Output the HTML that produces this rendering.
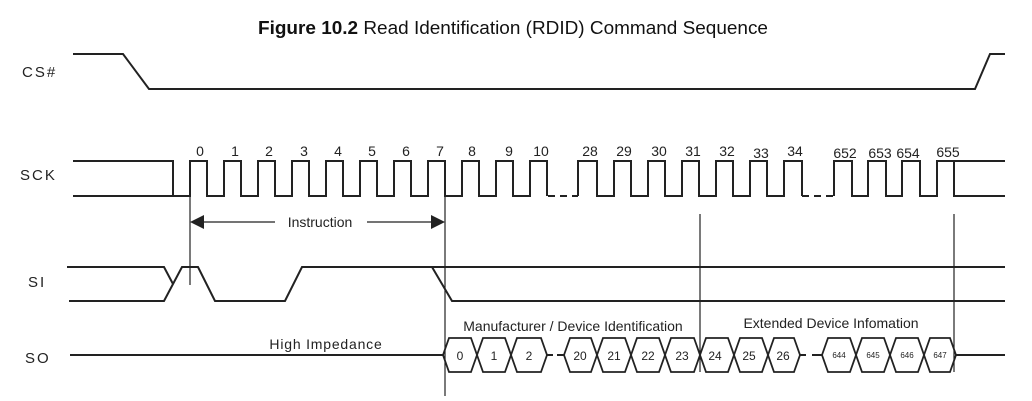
<!DOCTYPE html>
<html><head><meta charset="utf-8"><style>
html,body{margin:0;padding:0;background:#fff;}
svg{display:block;font-family:"Liberation Sans",Arial,sans-serif;}
</style></head><body>
<svg width="1032" height="401" viewBox="0 0 1032 401" xmlns="http://www.w3.org/2000/svg">
<text x="258" y="34" font-size="18" fill="#111" textLength="510" lengthAdjust="spacingAndGlyphs"><tspan font-weight="bold">Figure 10.2</tspan>  Read Identification (RDID) Command Sequence</text>
<g font-size="15" fill="#222" letter-spacing="2">
<text x="22" y="77">CS#</text>
<text x="20" y="180">SCK</text>
<text x="28" y="287">SI</text>
<text x="25" y="363">SO</text>
</g>
<g fill="none" stroke="#222" stroke-width="2">
<path d="M73 54 H123 L149 89 H975 L990 54 H1005"/>
<path d="M73 161 H173 V196 H190 V161 H207 V196 H224 V161 H241 V196 H258 V161 H275 V196 H292 V161 H309 V196 H326 V161 H343 V196 H360 V161 H377 V196 H394 V161 H411 V196 H428 V161 H445 V196 H462 V161 H479 V196 H496 V161 H513 V196 H530 V161 H547 V196"/>
<path d="M73 196 H173"/>
<path d="M548 196 H578" stroke-dasharray="7 5"/>
<path d="M578 196 V161 H597 V196 H614 V161 H631 V196 H648 V161 H665 V196 H682 V161 H699 V196 H716 V161 H733 V196 H750 V161 H767 V196 H784 V161 H802 V196"/>
<path d="M802 196 H834" stroke-dasharray="7 5"/>
<path d="M834 196 V161 H852 V196 H868 V161 H886 V196 H902 V161 H920 V196 H937 V161 H954 V196 H1005 M954 161 H1005"/>
<path d="M67 267 H164 L173 284 M69 301 H164 L182 267 H198 L215 301 H285 L302 267 H432 L452 301 H1005 M432 267 H1005"/>
<path d="M70 355 H443"/>
<path d="M547 355 H553 M557 355 H564"/>
<path d="M800 355 H806 M812 355 H822"/>
<path d="M956 355 H1005"/>
<g stroke-width="1.8">
<polygon points="443,355 449,338 471,338 477,355 471,372 449,372"/>
<polygon points="477,355 483,338 505,338 511,355 505,372 483,372"/>
<polygon points="511,355 517,338 541,338 547,355 541,372 517,372"/>
<polygon points="564,355 570,338 591,338 597,355 591,372 570,372"/>
<polygon points="597,355 603,338 625,338 631,355 625,372 603,372"/>
<polygon points="631,355 637,338 659,338 665,355 659,372 637,372"/>
<polygon points="665,355 671,338 694,338 700,355 694,372 671,372"/>
<polygon points="700,355 706,338 728,338 734,355 728,372 706,372"/>
<polygon points="734,355 740,338 762,338 768,355 762,372 740,372"/>
<polygon points="768,355 774,338 794,338 800,355 794,372 774,372"/>
<polygon points="822,355 828,338 850,338 856,355 850,372 828,372"/>
<polygon points="856,355 862,338 884,338 890,355 884,372 862,372"/>
<polygon points="890,355 896,338 918,338 924,355 918,372 896,372"/>
<polygon points="924,355 930,338 950,338 956,355 950,372 930,372"/>
</g>
</g>
<g stroke="#222" stroke-width="1.2" fill="none">
<path d="M190 196 V285"/>
<path d="M445 196 V396"/>
<path d="M700 214 V372"/>
<path d="M954 214 V372"/>
<path d="M200 222 H275 M367 222 H435"/>
</g>
<polygon points="190,222 204,215 204,229" fill="#222"/>
<polygon points="445,222 431,215 431,229" fill="#222"/>
<text x="320" y="227" font-size="14" fill="#222" text-anchor="middle">Instruction</text>
<g font-size="14" fill="#222" text-anchor="middle">
<text x="200" y="156">0</text><text x="235" y="156">1</text><text x="269" y="156">2</text><text x="304" y="156">3</text>
<text x="338" y="156">4</text><text x="372" y="156">5</text><text x="406" y="156">6</text><text x="440" y="156">7</text>
<text x="472" y="156">8</text><text x="509" y="156">9</text><text x="541" y="156">10</text>
<text x="590" y="156">28</text><text x="624" y="156">29</text><text x="659" y="156">30</text><text x="693" y="156">31</text>
<text x="727" y="156">32</text><text x="761" y="158">33</text><text x="795" y="156">34</text>
<text x="845" y="158">652</text><text x="880" y="158">653</text><text x="908" y="158">654</text><text x="948" y="157">655</text>
</g>
<g font-size="14" fill="#222" text-anchor="middle">
<text x="326" y="349" letter-spacing="0.8">High Impedance</text>
<text x="573" y="331">Manufacturer / Device Identification</text>
<text x="831" y="328">Extended Device Infomation</text>
</g>
<g font-size="12" fill="#222" text-anchor="middle">
<text x="460" y="360">0</text><text x="494" y="360">1</text><text x="529" y="360">2</text>
<text x="580" y="360">20</text><text x="614" y="360">21</text><text x="648" y="360">22</text><text x="682" y="360">23</text>
<text x="715" y="360">24</text><text x="749" y="360">25</text><text x="783" y="360">26</text>
</g>
<g font-size="8" fill="#222" text-anchor="middle">
<text x="839" y="358">644</text><text x="873" y="358">645</text><text x="907" y="358">646</text><text x="940" y="358">647</text>
</g>
</svg>
</body></html>
